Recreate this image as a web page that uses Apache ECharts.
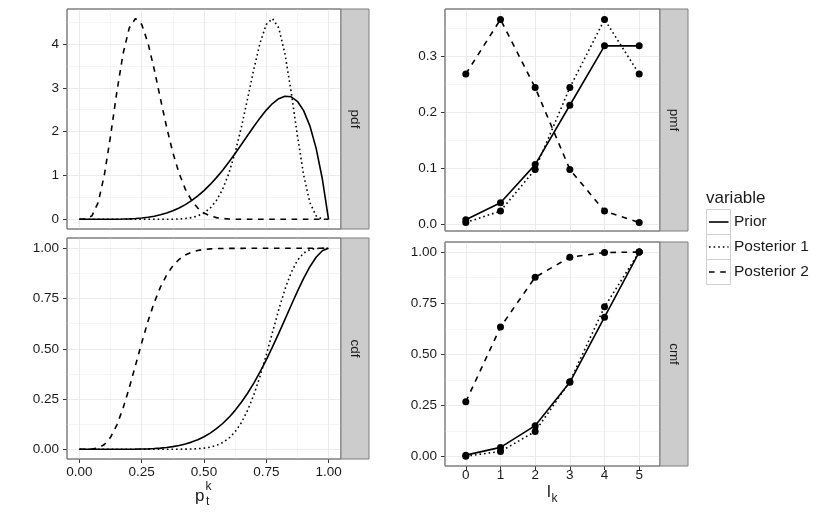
<!DOCTYPE html>
<html><head><meta charset="utf-8">
<script src="https://cdn.jsdelivr.net/npm/echarts@6/dist/echarts.min.js"></script>
<style>html,body{margin:0;padding:0;background:#fff}#c{width:830px;height:519px}</style>
</head><body><div id="c"></div>
<script>
// ---------- data ----------
const xs = [0,0.025,0.05,0.075,0.1,0.125,0.15,0.175,0.2,0.225,0.25,0.275,0.3,0.325,0.35,0.375,0.4,0.425,0.45,0.475,0.5,0.525,0.55,0.575,0.6,0.625,0.65,0.675,0.7,0.725,0.75,0.775,0.8,0.825,0.85,0.875,0.9,0.925,0.95,0.975,1];
const priorPdf = [0,0,0,0.0001,0.0004,0.0011,0.0027,0.0057,0.0108,0.0188,0.0308,0.0479,0.0714,0.1028,0.1434,0.1947,0.258,0.335,0.426,0.533,0.656,0.796,0.951,1.122,1.306,1.502,1.706,1.913,2.118,2.314,2.492,2.642,2.753,2.809,2.795,2.693,2.480,2.133,1.625,0.925,0];
const post1Pdf = [0,0,0,0,0,0,0,0,0,0,0,0,0.0001,0.0004,0.0012,0.0033,0.0081,0.0183,0.0388,0.0771,0.1444,0.256,0.431,0.689,1.050,1.522,2.100,2.754,3.425,4.023,4.446,4.581,4.367,3.777,2.901,1.910,1.010,0.382,0.079,0.0038,0];
const post2Pdf = [0,0.0038,0.079,0.382,1.010,1.910,2.901,3.777,4.367,4.581,4.446,4.023,3.425,2.754,2.100,1.522,1.050,0.689,0.431,0.256,0.1444,0.0771,0.0388,0.0183,0.0081,0.0033,0.0012,0.0004,0.0001,0,0,0,0,0,0,0,0,0,0,0,0];
const priorCdf = [0,0,0,0,0,0,0.0001,0.0002,0.0004,0.0007,0.0013,0.0023,0.0038,0.0059,0.0090,0.0132,0.0188,0.0262,0.0357,0.0477,0.0625,0.0806,0.1024,0.1283,0.1586,0.1937,0.2338,0.2790,0.3294,0.3848,0.4449,0.5092,0.5767,0.6464,0.7166,0.7854,0.8503,0.9083,0.9556,0.9880,1];
const post1Cdf = [0,0,0,0,0,0,0,0,0,0,0,0,0,0,0.0002,0.0003,0.0005,0.0008,0.0015,0.0030,0.0058,0.0108,0.0194,0.0334,0.0551,0.0873,0.1326,0.1933,0.2705,0.3636,0.4695,0.5823,0.6942,0.7960,0.8795,0.9396,0.9761,0.9935,0.9992,0.9999,1];
const post2Cdf = [0,0.0001,0.0008,0.0065,0.0239,0.0604,0.1205,0.2040,0.3058,0.4177,0.5305,0.6364,0.7295,0.8067,0.8674,0.9127,0.9449,0.9666,0.9806,0.9892,0.9942,0.9970,0.9985,0.9992,0.9995,0.9997,0.9998,1,1,1,1,1,1,1,1,1,1,1,1,1,1];

const kVals = [0,1,2,3,4,5];
const priorPmf = [0.0076,0.0379,0.1061,0.2121,0.3182,0.3182];
const post1Pmf = [0.0026,0.0231,0.0974,0.2436,0.3654,0.2679];
const post2Pmf = [0.2679,0.3654,0.2436,0.0974,0.0231,0.0026];
const priorCmf = [0.0076,0.0455,0.1515,0.3636,0.6818,1];
const post1Cmf = [0.0026,0.0257,0.1231,0.3667,0.7321,1];
const post2Cmf = [0.2679,0.6333,0.8769,0.9743,0.9974,1];

const seriesNames = ['Prior','Posterior 1','Posterior 2'];
const panelNames = ['pdf','cdf','pmf','cmf'];
const legendTitle = 'variable';

const pTicks = [0,0.25,0.5,0.75,1];
const pTickLabels = ['0.00','0.25','0.50','0.75','1.00'];
const pdfTicks = [0,1,2,3,4];
const pdfTickLabels = ['0','1','2','3','4'];
const cdfTicks = [0,0.25,0.5,0.75,1];
const cdfTickLabels = ['0.00','0.25','0.50','0.75','1.00'];
const pmfTicks = [0,0.1,0.2,0.3];
const pmfTickLabels = ['0.0','0.1','0.2','0.3'];
const cmfTicks = [0,0.25,0.5,0.75,1];
const cmfTickLabels = ['0.00','0.25','0.50','0.75','1.00'];
const kTicks = [0,1,2,3,4,5];
const kTickLabels = ['0','1','2','3','4','5'];
const pMinor = [0.125,0.375,0.625,0.875];
const pdfMinor = [0.5,1.5,2.5,3.5,4.5];
const cdfMinor = [0.125,0.375,0.625,0.875];
const pmfMinor = [0.05,0.15,0.25,0.35];
const cmfMinor = [0.125,0.375,0.625,0.875];

// ---------- layout / style ----------
const FONT = 'Liberation Sans, Arial, Helvetica, sans-serif';
const TXT = '#1a1a1a';
const grids = [
  {left:67, top:9, width:274, height:220},
  {left:67, top:238, width:274, height:221},
  {left:445, top:9, width:215, height:222},
  {left:445, top:242, width:215, height:224}
];
const dashTypes = ['solid',[1.6,3],[5.6,5.6]];
const LW = 1.6;

function majorAxis(gi, min, max, ticks, labels, margin, pos) {
  return {
    type:'value', gridIndex:gi, min:min, max:max, z:1, position:pos,
    axisLine:{show:false, onZero:false},
    axisTick:{show:true, inside:false, length:4, customValues:ticks, lineStyle:{color:'#333333', width:1}},
    axisLabel:{customValues:ticks, formatter:function(v){const i=ticks.findIndex(t=>Math.abs(t-v)<1e-9);return i>=0?labels[i]:'';},
      color:TXT, fontSize:13.5, fontFamily:FONT, margin:margin},
    splitLine:{show:true, lineStyle:{color:'#EBEBEB', width:1}}
  };
}
function minorAxis(gi, min, max, ticks, pos) {
  return {
    type:'value', gridIndex:gi, min:min, max:max, z:0, position:pos,
    axisLine:{show:false, onZero:false},
    axisTick:{show:false, customValues:ticks},
    axisLabel:{show:false, customValues:ticks},
    splitLine:{show:true, lineStyle:{color:'#F5F5F5', width:1}}
  };
}

const lim = {
  p:[-0.05,1.05], pdf:[-0.2209,4.7985], cdf:[-0.0483,1.0512],
  k:[-0.6,5.6], pmf:[-0.0125,0.384], cmf:[-0.0454,1.0489]
};

const xAxis = [
  majorAxis(0, lim.p[0], lim.p[1], pTicks, pTickLabels, 6, 'bottom'),
  majorAxis(1, lim.p[0], lim.p[1], pTicks, pTickLabels, 6, 'bottom'),
  majorAxis(2, lim.k[0], lim.k[1], kTicks, kTickLabels, 2.5, 'bottom'),
  majorAxis(3, lim.k[0], lim.k[1], kTicks, kTickLabels, 2.5, 'bottom'),
  minorAxis(0, lim.p[0], lim.p[1], pMinor, 'top'),
  minorAxis(1, lim.p[0], lim.p[1], pMinor, 'top')
];
xAxis[0].axisLabel.show = false; xAxis[0].axisTick.show = false;
xAxis[2].axisLabel.show = false; xAxis[2].axisTick.show = false;

const yAxis = [
  majorAxis(0, lim.pdf[0], lim.pdf[1], pdfTicks, pdfTickLabels, 8, 'left'),
  majorAxis(1, lim.cdf[0], lim.cdf[1], cdfTicks, cdfTickLabels, 8, 'left'),
  majorAxis(2, lim.pmf[0], lim.pmf[1], pmfTicks, pmfTickLabels, 8, 'left'),
  majorAxis(3, lim.cmf[0], lim.cmf[1], cmfTicks, cmfTickLabels, 8, 'left'),
  minorAxis(0, lim.pdf[0], lim.pdf[1], pdfMinor, 'right'),
  minorAxis(1, lim.cdf[0], lim.cdf[1], cdfMinor, 'right'),
  minorAxis(2, lim.pmf[0], lim.pmf[1], pmfMinor, 'right'),
  minorAxis(3, lim.cmf[0], lim.cmf[1], cmfMinor, 'right')
];

const series = [];
function addCurves(gi, arrs) {
  arrs.forEach((arr, s) => {
    series.push({
      type:'line', name:seriesNames[s], xAxisIndex:gi, yAxisIndex:gi,
      data: xs.map((x,i)=>[x, arr[i]]),
      showSymbol:false, symbol:'none', clip:true, z:3,
      lineStyle:{color:'#000', width:LW, type:dashTypes[s], cap:'butt'}
    });
  });
}
function addPoints(gi, arrs) {
  arrs.forEach((arr, s) => {
    series.push({
      type:'line', name:seriesNames[s], xAxisIndex:gi, yAxisIndex:gi,
      data: kVals.map((k,i)=>[k, arr[i]]),
      symbol:'circle', symbolSize:7, showSymbol:true, z:3,
      itemStyle:{color:'#000'},
      lineStyle:{color:'#000', width:LW, type:dashTypes[s], cap:'butt'}
    });
  });
}
addCurves(0, [priorPdf, post1Pdf, post2Pdf]);
addCurves(1, [priorCdf, post1Cdf, post2Cdf]);
addPoints(2, [priorPmf, post1Pmf, post2Pmf]);
addPoints(3, [priorCmf, post1Cmf, post2Cmf]);

// strips, axis titles, legend
const graphic = [];
grids.forEach((g, i) => {
  const sx = g.left + g.width;
  graphic.push({type:'rect', shape:{x:sx, y:g.top, width:28, height:g.height},
    style:{fill:'#CCCCCC', stroke:'#7F7F7F', lineWidth:1}, z:10});
  graphic.push({type:'text', x:sx+14, y:g.top+g.height/2, rotation:-Math.PI/2,
    style:{text:panelNames[i], fill:TXT, font:'13.5px '+FONT, align:'center', verticalAlign:'middle'}, z:11});
});
grids.forEach(g => {
  graphic.push({type:'rect', shape:{x:g.left, y:g.top, width:g.width, height:g.height},
    style:{fill:'none', stroke:'#7F7F7F', lineWidth:1}, z:9, silent:true});
});
// axis titles
graphic.push({type:'text', x:195, y:487.5, style:{text:'p', fill:TXT, font:'17px '+FONT, align:'left', verticalAlign:'top'}, z:11});
graphic.push({type:'text', x:205.5, y:480.5, style:{text:'k', fill:TXT, font:'12px '+FONT, align:'left', verticalAlign:'top'}, z:11});
graphic.push({type:'text', x:206, y:495.5, style:{text:'t', fill:TXT, font:'12px '+FONT, align:'left', verticalAlign:'top'}, z:11});
graphic.push({type:'text', x:547, y:484, style:{text:'l', fill:TXT, font:'17px '+FONT, align:'left', verticalAlign:'top'}, z:11});
graphic.push({type:'text', x:551.5, y:493, style:{text:'k', fill:TXT, font:'12px '+FONT, align:'left', verticalAlign:'top'}, z:11});
// legend
graphic.push({type:'text', x:706, y:198, style:{text:legendTitle, fill:TXT, font:'17px '+FONT, align:'left', verticalAlign:'middle'}, z:11});
seriesNames.forEach((n, i) => {
  const cy = 222 + 25*i;
  graphic.push({type:'rect', shape:{x:706.5, y:cy-12.5, width:24, height:25},
    style:{fill:'#fff', stroke:'#D0D0D0', lineWidth:1}, z:10});
  graphic.push({type:'line', shape:{x1:709, y1:cy, x2:728.5, y2:cy},
    style:{stroke:'#000', lineWidth:LW, lineDash:(i===0?null:dashTypes[i])}, z:11});
  graphic.push({type:'text', x:734, y:cy, style:{text:n, fill:TXT, font:'15.5px '+FONT, align:'left', verticalAlign:'middle'}, z:11});
});

const chart = echarts.init(document.getElementById('c'), null, {renderer:'canvas'});
chart.setOption({
  animation:false,
  backgroundColor:'#fff',
  textStyle:{fontFamily:FONT},
  grid: grids.map(g => Object.assign({show:true, backgroundColor:'#fff', borderColor:'#7F7F7F', borderWidth:1, containLabel:false}, g)),
  xAxis: xAxis, yAxis: yAxis, series: series, graphic: graphic
});
</script></body></html>
